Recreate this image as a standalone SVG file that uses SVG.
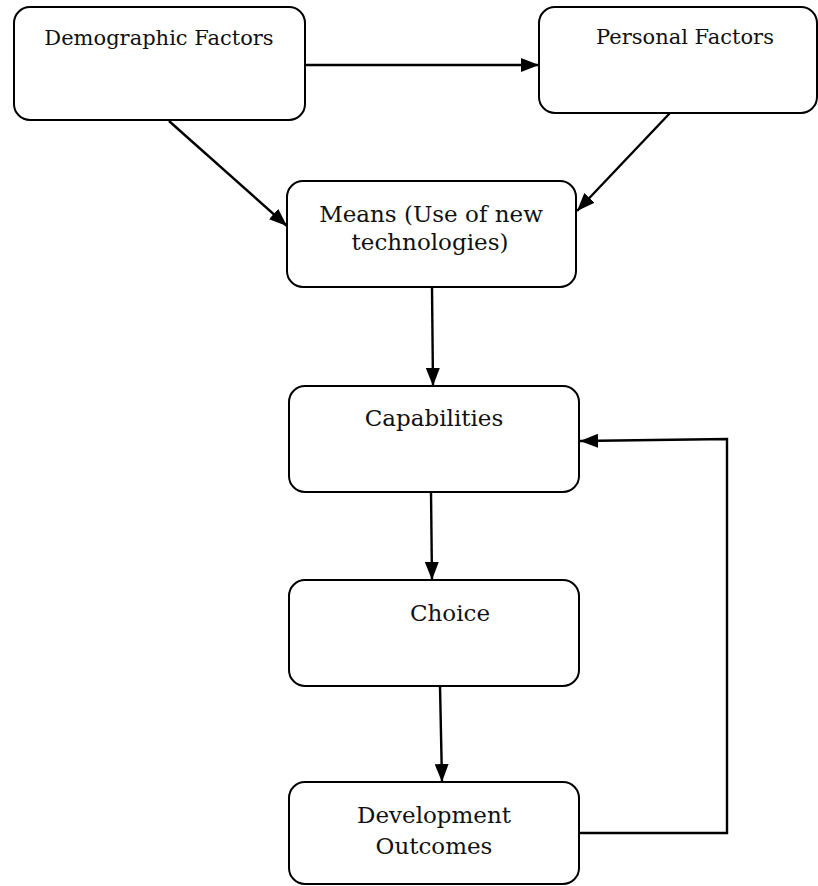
<svg xmlns="http://www.w3.org/2000/svg" width="818" height="886" viewBox="0 0 818 886">
<defs>
<marker id="arr" viewBox="0 0 18 14" refX="18" refY="7" markerWidth="18" markerHeight="14" markerUnits="userSpaceOnUse" orient="auto">
<path d="M0,0 L18,7 L0,14 Z" fill="#000"/>
</marker>
</defs>
<style>
.box{fill:#fff;stroke:#000;stroke-width:2}
.lbl{font-family:"DejaVu Serif","Liberation Serif",serif;font-size:21px;fill:#111;text-anchor:middle}
.big{font-size:23px}
.con{fill:none;stroke:#000;stroke-width:2.4}
</style>
<rect width="818" height="886" fill="#fff"/>
<g id="connectors">
<line class="con" x1="305" y1="65" x2="539" y2="65" marker-end="url(#arr)"/>
<line class="con" x1="169" y1="121" x2="287" y2="226" marker-end="url(#arr)"/>
<line class="con" x1="670" y1="113" x2="577" y2="211" marker-end="url(#arr)"/>
<line class="con" x1="432" y1="287" x2="433" y2="386" marker-end="url(#arr)"/>
<line class="con" x1="431" y1="492" x2="432" y2="580" marker-end="url(#arr)"/>
<line class="con" x1="440" y1="686" x2="442" y2="782" marker-end="url(#arr)"/>
<polyline class="con" points="579,833 727,833 727,439 580,441" marker-end="url(#arr)"/>
</g>
<g id="demographic">
<rect class="box" x="14" y="7" width="291" height="113" rx="16"/>
<text class="lbl" x="159" y="45">Demographic Factors</text>
</g>
<g id="personal">
<rect class="box" x="539" y="7" width="278" height="106" rx="16"/>
<text class="lbl" x="685" y="44">Personal Factors</text>
</g>
<g id="means">
<rect class="box" x="287" y="181" width="289" height="106" rx="16"/>
<text class="lbl big" x="431" y="222">Means (Use of new</text>
<text class="lbl big" x="430" y="250">technologies)</text>
</g>
<g id="capabilities">
<rect class="box" x="289" y="386" width="290" height="106" rx="16"/>
<text class="lbl big" x="434" y="426">Capabilities</text>
</g>
<g id="choice">
<rect class="box" x="289" y="580" width="290" height="106" rx="16"/>
<text class="lbl big" x="450" y="621">Choice</text>
</g>
<g id="development">
<rect class="box" x="289" y="782" width="290" height="102" rx="16"/>
<text class="lbl big" x="434" y="823">Development</text>
<text class="lbl big" x="434" y="854">Outcomes</text>
</g>
</svg>
